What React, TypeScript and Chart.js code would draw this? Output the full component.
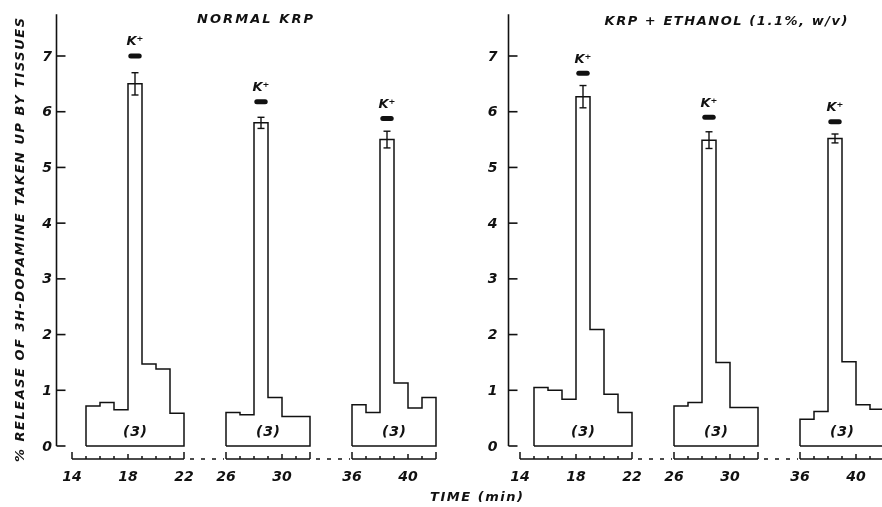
import React, { useEffect, useRef } from "react";
import { Chart, registerables } from "chart.js";

Chart.register(...registerables);

// ---------------- data ----------------
const SEGMENTS: [number, number][] = [[14, 22], [26, 32], [36, 42]]; // minutes shown on each piece of the broken axis
const X_TICK_LABELS = [14, 18, 22, 26, 30, 36, 40];
const X_MAJOR_TICKS = [18, 30, 40];
const Y_TICKS = [0, 1, 2, 3, 4, 5, 6, 7];
const FIRST_SAMPLE = [15, 26, 36]; // start minute of the first 1-min fraction in each segment
const K_START = [18, 28, 38]; // minute of K+ stimulation
const N_LABEL = "(3)";

const NORMAL_TITLE = "NORMAL KRP";
const NORMAL_SEG1 = [0.72, 0.78, 0.65, 6.5, 1.47, 1.38, 0.59];
const NORMAL_SEG2 = [0.6, 0.56, 5.8, 0.87, 0.53, 0.53];
const NORMAL_SEG3 = [0.74, 0.6, 5.5, 1.13, 0.68, 0.87];
const NORMAL_ERR = [0.2, 0.1, 0.15];
const NORMAL_K = [7.0, 6.18, 5.88];

const ETHANOL_TITLE = "KRP + ETHANOL (1.1%, w/v)";
const ETHANOL_SEG1 = [1.05, 1.0, 0.84, 6.27, 2.09, 0.93, 0.6];
const ETHANOL_SEG2 = [0.72, 0.78, 5.49, 1.5, 0.69, 0.69];
const ETHANOL_SEG3 = [0.48, 0.62, 5.52, 1.51, 0.74, 0.66];
const ETHANOL_ERR = [0.2, 0.15, 0.08];
const ETHANOL_K = [6.69, 5.9, 5.82];

const X_TITLE = "TIME (min)";
const Y_TITLE = "% RELEASE OF 3H-DOPAMINE TAKEN UP BY TISSUES";

// ---------------- layout / style ----------------
const INK = "#111";
const FONT = '"DejaVu Sans", sans-serif';
const W = 882;
const H = 507;
const PLOT_TOP = 56;
const PLOT_BOTTOM = 446;
const PX_PER_MIN = 14;
const BREAK_WIDTH = 3; // display minutes used for each axis break
const Y_AXIS_TOP = 7.75;

function segOffset(i: number) {
  let off = 0;
  for (let j = 1; j <= i; j++) off += SEGMENTS[j][0] - SEGMENTS[j - 1][1] - BREAK_WIDTH;
  return off;
}
function disp(t: number, i: number) {
  return t - segOffset(i);
}
function segIndexOf(t: number) {
  return SEGMENTS.findIndex(([a, b]) => t >= a && t <= b);
}
const X_MIN = SEGMENTS[0][0];
const X_MAX = disp(SEGMENTS[SEGMENTS.length - 1][1], SEGMENTS.length - 1);
const PLOT_W = (X_MAX - X_MIN) * PX_PER_MIN;

interface PanelDef {
  title: string;
  series: number[][];
  err: number[];
  k: number[];
  plotLeft: number;
  canvasW: number;
  axisGap: number;
  labelGap: number;
  titleX: number;
  titleY: number;
  titleW: number;
  globalTexts: boolean;
}

const LEFT: PanelDef = {
  title: NORMAL_TITLE,
  series: [NORMAL_SEG1, NORMAL_SEG2, NORMAL_SEG3],
  err: NORMAL_ERR,
  k: NORMAL_K,
  plotLeft: 72,
  canvasW: W,
  axisGap: 15.5,
  labelGap: 9.5,
  titleX: 255,
  titleY: 20,
  titleW: 116,
  globalTexts: true,
};

const RIGHT: PanelDef = {
  title: ETHANOL_TITLE,
  series: [ETHANOL_SEG1, ETHANOL_SEG2, ETHANOL_SEG3],
  err: ETHANOL_ERR,
  k: ETHANOL_K,
  plotLeft: 520,
  canvasW: 900,
  axisGap: 11.5,
  labelGap: 16,
  titleX: 726,
  titleY: 21.5,
  titleW: 243,
  globalTexts: false,
};

function spacedText(ctx: CanvasRenderingContext2D, text: string, cx: number, cy: number, width: number) {
  (ctx as any).letterSpacing = "0px";
  const w = ctx.measureText(text).width;
  const sp = Math.max(0, (width - w) / Math.max(1, text.length - 1));
  (ctx as any).letterSpacing = sp + "px";
  ctx.textAlign = "left";
  ctx.fillText(text, cx - (w + (text.length - 1) * sp) / 2, cy);
  (ctx as any).letterSpacing = "0px";
}

function buildDatasets(p: PanelDef) {
  const ds: any[] = [];
  p.series.forEach((vals, i) => {
    const s = FIRST_SAMPLE[i];
    const pts: { x: number; y: number }[] = [{ x: disp(s, i), y: 0 }];
    vals.forEach((v, j) => pts.push({ x: disp(s + j, i), y: v }));
    pts.push({ x: disp(s + vals.length, i), y: 0 });
    pts.push({ x: disp(s, i), y: 0 });
    ds.push({
      data: pts,
      stepped: "before",
      borderColor: INK,
      borderWidth: 1.5,
      pointRadius: 0,
      fill: false,
      clip: false,
    });
    const peak = vals[K_START[i] - s];
    const c = disp(K_START[i] + 0.5, i);
    ds.push({
      data: [
        { x: c, y: peak - p.err[i] },
        { x: c, y: peak + p.err[i] },
      ],
      borderColor: INK,
      borderWidth: 1.4,
      pointStyle: "line",
      pointRadius: 3.5,
      pointBorderWidth: 1.4,
      pointBorderColor: INK,
      fill: false,
      clip: false,
    });
    ds.push({
      data: [
        { x: disp(K_START[i] + 0.2, i), y: p.k[i] },
        { x: disp(K_START[i] + 0.8, i), y: p.k[i] },
      ],
      borderColor: INK,
      borderWidth: 5,
      borderCapStyle: "round",
      pointRadius: 0,
      fill: false,
      clip: false,
    });
  });
  return ds;
}

function decorPlugin(p: PanelDef) {
  return {
    id: "decor",
    afterDatasetsDraw(chart: any) {
      const { ctx, chartArea } = chart;
      const xs = chart.scales.x;
      const ys = chart.scales.y;
      const px = (t: number, i: number) => xs.getPixelForValue(disp(t, i));
      ctx.save();
      ctx.strokeStyle = INK;
      ctx.fillStyle = INK;
      ctx.lineWidth = 1.6;
      ctx.lineCap = "butt";

      // y axis
      const ax = chartArea.left - p.axisGap;
      ctx.beginPath();
      ctx.moveTo(ax, ys.getPixelForValue(0));
      ctx.lineTo(ax, ys.getPixelForValue(Y_AXIS_TOP));
      ctx.stroke();
      ctx.font = `italic bold 14px ${FONT}`;
      ctx.textAlign = "center";
      ctx.textBaseline = "middle";
      Y_TICKS.forEach((v) => {
        const py = ys.getPixelForValue(v);
        ctx.beginPath();
        ctx.moveTo(ax, py);
        ctx.lineTo(ax + 9, py);
        ctx.stroke();
        ctx.fillText(String(v), ax - p.labelGap, py + 1);
      });

      // broken x axis
      const axisY = chartArea.bottom + 13;
      ctx.lineWidth = 1.5;
      SEGMENTS.forEach(([a, b], i) => {
        const x0 = px(a, i);
        const x1 = px(b, i);
        ctx.setLineDash([]);
        ctx.beginPath();
        ctx.moveTo(x0, axisY);
        ctx.lineTo(x1, axisY);
        for (let t = a; t <= b; t++) {
          const h = t === a || t === b ? 7 : X_MAJOR_TICKS.includes(t) ? 5 : 3;
          const tx = px(t, i);
          ctx.moveTo(tx, axisY);
          ctx.lineTo(tx, axisY - h);
        }
        ctx.stroke();
        if (i > 0) {
          const prevEnd = px(SEGMENTS[i - 1][1], i - 1);
          ctx.setLineDash([4, 7]);
          ctx.beginPath();
          ctx.moveTo(prevEnd + 6, axisY);
          ctx.lineTo(x0 - 2, axisY);
          ctx.stroke();
          ctx.setLineDash([]);
        }
      });
      ctx.font = `italic bold 14px ${FONT}`;
      ctx.textAlign = "center";
      ctx.textBaseline = "middle";
      X_TICK_LABELS.forEach((t) => {
        const i = segIndexOf(t);
        spacedText(ctx, String(t), px(t, i), axisY + 18, 19);
      });

      // n labels and K+ labels
      p.series.forEach((vals, i) => {
        const s = FIRST_SAMPLE[i];
        const mid = (s + SEGMENTS[i][1]) / 2;
        ctx.font = `italic bold 14px ${FONT}`;
        ctx.textBaseline = "middle";
        spacedText(ctx, N_LABEL, px(mid, i), ys.getPixelForValue(0.25), 24);
        ctx.font = `italic bold 13px ${FONT}`;
        ctx.textAlign = "center";
        ctx.fillText("K⁺", px(K_START[i] + 0.5, i), ys.getPixelForValue(p.k[i]) - 14);
      });

      // panel title
      ctx.font = `italic bold 13px ${FONT}`;
      ctx.textBaseline = "middle";
      spacedText(ctx, p.title, p.titleX, p.titleY, p.titleW);

      if (p.globalTexts) {
        ctx.font = `italic bold 13px ${FONT}`;
        spacedText(ctx, X_TITLE, 476.5, 497.5, 93);
        ctx.save();
        ctx.translate(21, 240);
        ctx.rotate(-Math.PI / 2);
        ctx.font = `italic bold 13px ${FONT}`;
        spacedText(ctx, Y_TITLE, 0, 0, 444);
        ctx.restore();
      }
      ctx.restore();
    },
  };
}

function PanelChart({ panel }: { panel: PanelDef }) {
  const ref = useRef<HTMLCanvasElement | null>(null);
  useEffect(() => {
    if (!ref.current) return;
    const chart = new Chart(ref.current, {
      type: "line",
      data: { datasets: buildDatasets(panel) },
      options: {
        animation: false,
        responsive: false,
        maintainAspectRatio: false,
        devicePixelRatio: 1,
        events: [],
        layout: {
          padding: {
            left: panel.plotLeft,
            right: panel.canvasW - panel.plotLeft - PLOT_W,
            top: PLOT_TOP,
            bottom: H - PLOT_BOTTOM,
          },
        },
        plugins: {
          legend: { display: false },
          tooltip: { enabled: false },
          title: { display: false },
        },
        scales: {
          x: { type: "linear", display: false, min: X_MIN, max: X_MAX },
          y: { type: "linear", display: false, min: 0, max: 7 },
        },
      } as any,
      plugins: [decorPlugin(panel) as any],
    });
    return () => chart.destroy();
  }, [panel]);
  return (
    <canvas
      ref={ref}
      width={panel.canvasW}
      height={H}
      style={{ position: "absolute", left: 0, top: 0, width: panel.canvasW, height: H }}
    />
  );
}

export default function App() {
  return (
    <div
      style={{
        position: "absolute",
        left: 0,
        top: 0,
        width: W,
        height: H,
        overflow: "hidden",
        background: "#fff",
      }}
    >
      <PanelChart panel={LEFT} />
      <PanelChart panel={RIGHT} />
    </div>
  );
}
